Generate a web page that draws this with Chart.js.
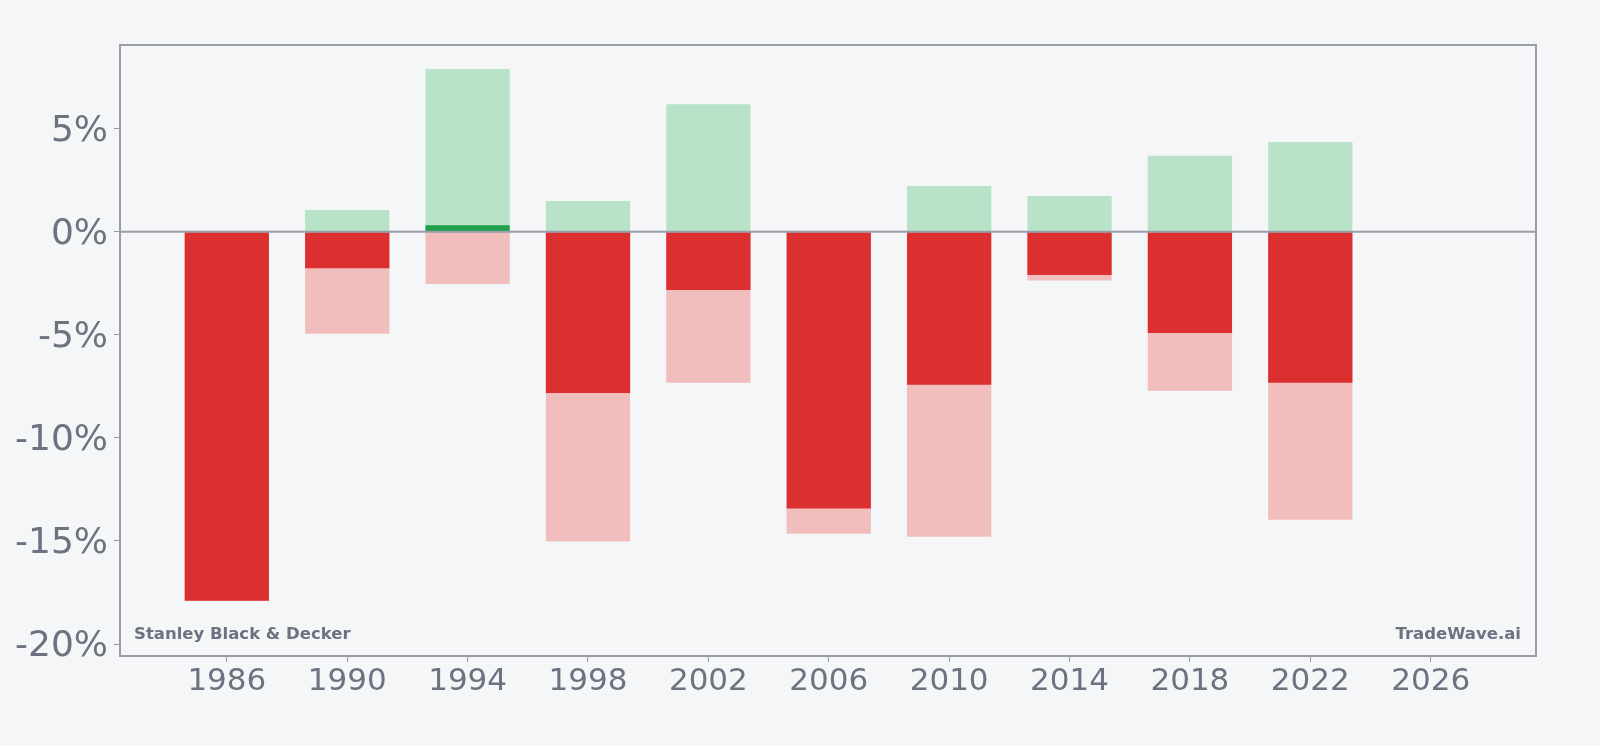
<!DOCTYPE html>
<html>
<head>
<meta charset="utf-8">
<script src="https://cdn.jsdelivr.net/npm/chart.js@4.4.1/dist/chart.umd.min.js"></script>
<style>
  html, body { margin: 0; padding: 0; background: #f4f6f8; }
  #c { display: block; }
</style>
</head>
<body>
<canvas id="c" width="1600" height="746"></canvas>
<script>
// ---- data ----
const years      = [1986, 1990, 1994, 1998, 2002, 2006, 2010, 2014, 2018, 2022];
const maxUpside  = [null, 1.05, 7.89, 1.49, 6.19, null, 2.22, 1.73, 3.69, 4.35];
const maxDown    = [-17.9, -4.95, -2.53, -15.03, -7.32, -14.65, -14.79, -2.36, -7.71, -13.97];
const yearReturn = [-17.9, -1.77, 0.32, -7.82, -2.83, -13.43, -7.42, -2.10, -4.91, -7.32];
const xTicks     = [1986, 1990, 1994, 1998, 2002, 2006, 2010, 2014, 2018, 2022, 2026];
const yTicks     = [-20, -15, -10, -5, 0, 5];
const company    = 'Stanley Black & Decker';
const brand      = 'TradeWave.ai';

const GRAY = '#9a9ca8';
const TXT = '#6b7280';

const toPts = arr => years.map((x, i) => ({ x: x, y: arr[i] }));

const framePlugin = {
  id: 'frame',
  afterDatasetsDraw(chart) {
    const { ctx, chartArea: a, scales } = chart;
    const y0 = scales.y.getPixelForValue(0);
    ctx.save();
    ctx.strokeStyle = GRAY;
    ctx.lineWidth = 2;
    ctx.beginPath();
    ctx.moveTo(a.left, y0);
    ctx.lineTo(a.right, y0);
    ctx.stroke();
    ctx.strokeRect(a.left, a.top, a.right - a.left, a.bottom - a.top);
    ctx.fillStyle = TXT;
    ctx.font = 'bold 16.5px "DejaVu Sans"';
    ctx.textBaseline = 'alphabetic';
    ctx.textAlign = 'left';
    ctx.fillText(company, a.left + 14, a.bottom - 17);
    ctx.textAlign = 'right';
    ctx.fillText(brand, a.right - 15, a.bottom - 17);
    ctx.restore();
  }
};

new Chart(document.getElementById('c'), {
  type: 'bar',
  data: {
    datasets: [
      {
        label: 'Return',
        data: toPts(yearReturn),
        backgroundColor: yearReturn.map(v => v >= 0 ? '#1f9e4b' : '#dc2f2f'),
        order: 0
      },
      {
        label: 'Max upside',
        data: toPts(maxUpside),
        backgroundColor: '#b8e3c8',
        order: 1
      },
      {
        label: 'Max drawdown',
        data: toPts(maxDown),
        backgroundColor: '#f2bdbd',
        order: 2
      }
    ]
  },
  options: {
    responsive: false,
    animation: false,
    devicePixelRatio: 1,
    layout: { padding: { top: 45, right: 64, left: 0, bottom: 0 } },
    datasets: {
      bar: {
        grouped: false,
        barPercentage: 0.7,
        categoryPercentage: 1.0,
        borderWidth: 0
      }
    },
    plugins: {
      legend: { display: false },
      tooltip: { enabled: false }
    },
    scales: {
      x: {
        type: 'linear',
        offset: false,
        min: 1982.45,
        max: 2029.5,
        afterBuildTicks: s => { s.ticks = xTicks.map(v => ({ value: v })); },
        afterFit: s => { s.height = 90; },
        grid: { offset: false, drawOnChartArea: false, drawTicks: true, tickLength: 6, tickColor: GRAY, color: GRAY },
        border: { display: false },
        ticks: {
          color: TXT,
          font: { family: 'DejaVu Sans', size: 31 },
          padding: 1,
          maxRotation: 0,
          autoSkip: false,
          callback: v => String(v)
        }
      },
      y: {
        type: 'linear',
        min: -20.58,
        max: 9.06,
        afterBuildTicks: s => { s.ticks = yTicks.map(v => ({ value: v })); },
        afterFit: s => { s.width = 120; },
        grid: { drawOnChartArea: false, drawTicks: true, tickLength: 6, tickColor: GRAY, color: GRAY },
        border: { display: false },
        ticks: {
          color: TXT,
          font: { family: 'DejaVu Sans', size: 36 },
          padding: 6,
          labelOffset: 3,
          callback: v => v + '%'
        }
      }
    }
  },
  plugins: [framePlugin]
});
</script>
</body>
</html>
